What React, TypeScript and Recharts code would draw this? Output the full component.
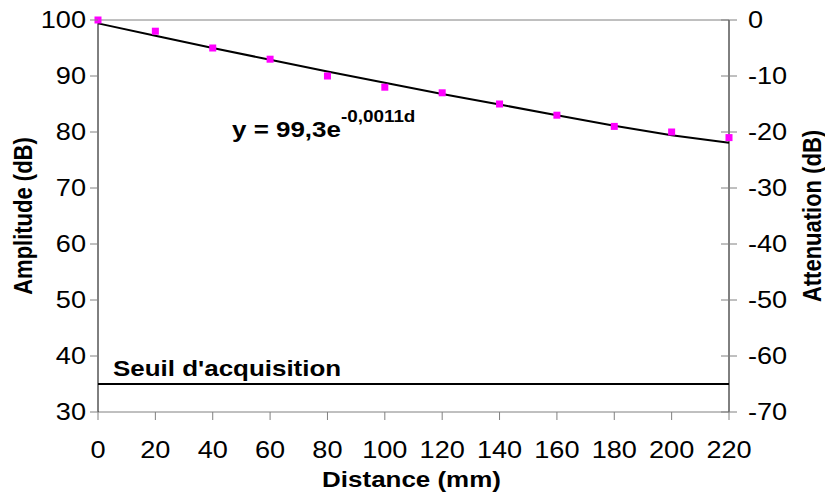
import {
  ComposedChart,
  Line,
  Scatter,
  XAxis,
  YAxis,
  ReferenceLine,
  Customized,
} from 'recharts';

// distance (mm)
const DIST = [0, 20, 40, 60, 80, 100, 120, 140, 160, 180, 200, 220];
// measured amplitude (dB)
const AMPLITUDE = [100, 98, 95, 93, 90, 88, 87, 85, 83, 81, 80, 79];
// attenuation (dB) relative to the first measure, for the right axis
const ATTENUATION = [0, -2, -5, -7, -10, -12, -13, -15, -17, -19, -20, -21];
// exponential trend line at each distance
const TREND = [99.4, 97.2, 95.0, 92.9, 90.8, 88.8, 86.8, 84.9, 83.0, 81.1, 79.4, 78.1];
const SEUIL = 35;

const LEFT_TICKS = [30, 40, 50, 60, 70, 80, 90, 100];
const RIGHT_TICKS = [-70, -60, -50, -40, -30, -20, -10, 0];
const X_TICKS = DIST;

const FONT = '"Liberation Sans", Arial, sans-serif';
const GRAY = '#808080';
const PINK = '#FF00FF';
const SX = 1.18; // the original is stretched a little horizontally

const data = DIST.map((d, i) => ({ d, amp: AMPLITUDE[i], att: ATTENUATION[i], trend: TREND[i] }));

function SText({ x, y, anchor = 'start', size = 22, weight = 'normal', rotate = 0, children }: any) {
  const tr = `translate(${x} ${y}) scale(${SX} 1)` + (rotate ? ` rotate(${rotate})` : '');
  return (
    <text transform={tr} textAnchor={anchor} fontSize={size} fontWeight={weight} fontFamily={FONT} fill="#000">
      {children}
    </text>
  );
}

const LeftTick = ({ x, y, payload }: any) => (
  <g>
    <line x1={x - 8} x2={x} y1={y} y2={y} stroke={GRAY} />
    <SText x={x - 12} y={y + 8} anchor="end" size={23}>{payload.value}</SText>
  </g>
);

const RightTick = ({ x, y, payload }: any) => (
  <g>
    <line x1={x - 8} x2={x + 8} y1={y} y2={y} stroke={GRAY} />
    <SText x={x + 19} y={y + 8} size={23}>{payload.value}</SText>
  </g>
);

const BottomTick = ({ x, y, payload }: any) => (
  <g>
    <line x1={x} x2={x} y1={y} y2={y + 8} stroke={GRAY} />
    <SText x={x} y={y + 46} anchor="middle" size={23}>{payload.value}</SText>
  </g>
);

const Square = ({ cx, cy }: any) => (
  <rect x={cx - 3.5} y={cy - 3.5} width={7} height={7} fill={PINK} />
);

export default function App() {
  return (
    <div style={{ position: 'absolute', left: 0, top: 0, width: 825, height: 492, background: '#fff' }}>
      <ComposedChart width={825} height={492} data={data} margin={{ top: 20, right: 0, bottom: 0, left: 0 }}>
        <XAxis
          dataKey="d"
          type="number"
          domain={[0, 220]}
          ticks={X_TICKS}
          height={80}
          axisLine={{ stroke: GRAY }}
          tickLine={false}
          tickSize={0}
          tickMargin={0}
          tick={BottomTick}
          interval={0}
          label={{
            content: ({ viewBox }: any) => (
              <SText x={viewBox.x + viewBox.width / 2 - 2} y={487} anchor="middle" weight="bold">
                Distance (mm)
              </SText>
            ),
          }}
        />
        <YAxis
          yAxisId="left"
          domain={[30, 100]}
          ticks={LEFT_TICKS}
          width={98}
          axisLine={{ stroke: '#000' }}
          tickLine={false}
          tickSize={0}
          tickMargin={0}
          tick={LeftTick}
          interval={0}
          label={{
            content: ({ viewBox }: any) => (
              <SText x={32} y={viewBox.y + viewBox.height / 2} anchor="middle" weight="bold" rotate={-90}>
                Amplitude (dB)
              </SText>
            ),
          }}
        />
        <YAxis
          yAxisId="right"
          orientation="right"
          domain={[-70, 0]}
          ticks={RIGHT_TICKS}
          width={96}
          axisLine={{ stroke: '#000' }}
          tickLine={false}
          tickSize={0}
          tickMargin={0}
          tick={RightTick}
          interval={0}
          label={{
            content: ({ viewBox }: any) => (
              <SText x={821} y={viewBox.y + viewBox.height / 2} anchor="middle" weight="bold" rotate={-90}>
                Attenuation (dB)
              </SText>
            ),
          }}
        />
        <ReferenceLine yAxisId="left" y={100} stroke={GRAY} />
        <ReferenceLine
          yAxisId="left"
          y={SEUIL}
          stroke="#000"
          strokeWidth={2}
          label={{
            content: ({ viewBox }: any) => (
              <SText x={viewBox.x + 15} y={viewBox.y - 8} weight="bold">
                Seuil d'acquisition
              </SText>
            ),
          }}
        />
        {/* invisible series so the right axis is drawn */}
        <Line
          yAxisId="right"
          dataKey="att"
          stroke="none"
          dot={false}
          activeDot={false}
          isAnimationActive={false}
        />
        <Line
          yAxisId="left"
          dataKey="trend"
          type="linear"
          stroke="#000"
          strokeWidth={2}
          dot={false}
          isAnimationActive={false}
        />
        <Scatter yAxisId="left" dataKey="amp" shape={Square} isAnimationActive={false} />
        <Customized
          component={() => (
            <text
              transform={`translate(232 137) scale(${SX} 1)`}
              fontSize={22}
              fontWeight="bold"
              fontFamily={FONT}
              fill="#000"
            >
              y = 99,3e
              <tspan fontSize={16} dy={-15}>-0,0011d</tspan>
            </text>
          )}
        />
      </ComposedChart>
    </div>
  );
}
